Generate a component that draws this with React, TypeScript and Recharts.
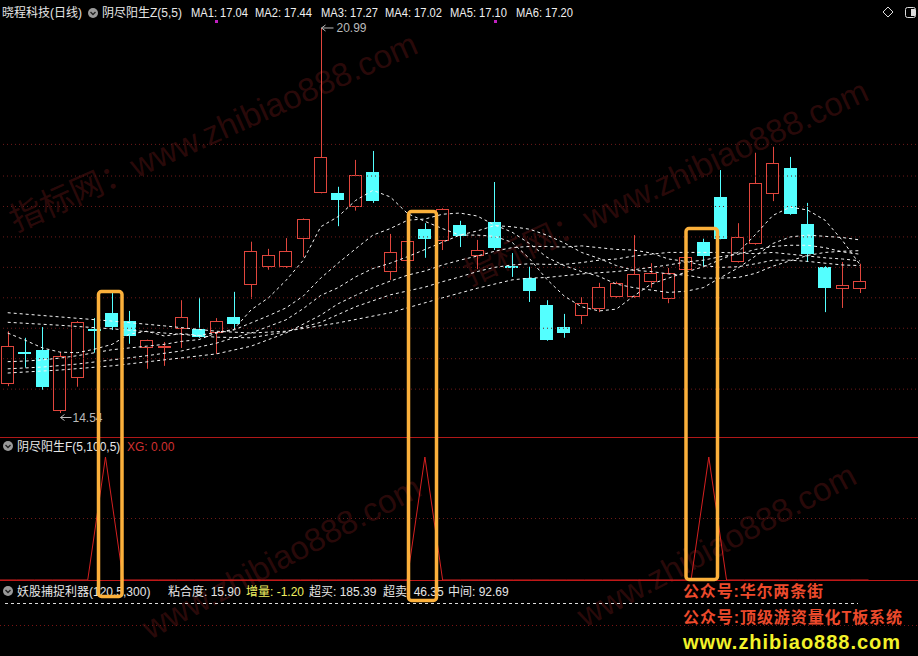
import { Bar, ComposedChart, Line, ReferenceLine, XAxis, YAxis } from "recharts";

// daily candles
const OPEN = [15.03, 15.57, 15.6, 14.57, 15.13, 15.94, 16.22, 16.08, 15.63, 15.65, 15.95, 15.95, 15.88, 16.15, 16.69, 16.99, 16.99, 17.46, 18.23, 18.23, 17.99, 18.58, 16.9, 17.09, 17.62, 17.42, 17.69, 17.17, 17.74, 17.0, 16.8, 16.35, 15.98, 16.17, 16.28, 16.48, 16.48, 16.74, 16.45, 16.94, 17.41, 18.16, 17.07, 17.37, 18.21, 18.65, 17.71, 16.99, 16.62, 16.62];
const HIGH = [15.91, 15.8, 15.98, 15.56, 16.08, 16.13, 16.55, 16.25, 15.77, 15.73, 16.43, 16.48, 16.13, 16.57, 17.41, 17.29, 17.47, 17.8, 20.99, 18.33, 18.78, 18.93, 17.54, 17.43, 17.72, 17.97, 17.76, 17.44, 18.41, 17.22, 16.99, 16.43, 16.2, 16.48, 16.72, 16.74, 17.52, 17.05, 16.97, 17.16, 17.46, 18.61, 17.72, 18.9, 19.0, 18.83, 18.06, 17.0, 17.07, 17.04];
const LOW = [14.99, 15.3, 14.93, 14.54, 14.98, 15.55, 15.93, 15.7, 15.28, 15.33, 15.63, 15.8, 15.53, 15.96, 16.45, 16.94, 16.97, 17.15, 18.22, 17.67, 17.93, 18.06, 16.77, 17.08, 17.14, 17.27, 17.32, 16.95, 17.27, 16.82, 16.4, 15.75, 15.8, 16.03, 16.23, 16.47, 16.47, 16.64, 16.38, 16.93, 17.0, 17.45, 17.06, 17.36, 18.09, 17.86, 17.07, 16.23, 16.3, 16.55];
const CLOSE = [15.66, 15.56, 14.98, 15.5, 16.07, 15.93, 15.98, 15.83, 15.76, 15.65, 16.15, 15.81, 16.08, 16.03, 17.25, 17.19, 17.25, 17.79, 18.83, 18.11, 18.53, 18.09, 17.24, 17.42, 17.46, 17.96, 17.51, 17.27, 17.3, 16.99, 16.58, 15.76, 15.88, 16.38, 16.65, 16.72, 16.87, 16.89, 16.89, 17.15, 17.17, 17.46, 17.49, 18.39, 18.73, 17.87, 17.2, 16.64, 16.69, 16.75];

// moving averages as drawn (dashed white); null = not sampled
const MA1 = [15.88, 15.76, 15.63, 15.56, 15.55, 15.61, 15.69, 15.86, 15.91, 15.83, 15.87, 15.84, 15.89, 15.94, 16.27, 16.47, 16.76, 17.1, 17.66, 17.83, 18.1, 18.27, 18.16, 17.88, 17.75, 17.63, 17.52, 17.52, 17.5, 17.4, 17.13, 16.78, 16.5, 16.32, 16.25, 16.28, 16.5, 16.7, 16.8, 16.9, 16.99, 17.11, 17.23, 17.53, 17.85, 17.99, 17.94, 17.77, 17.43, 17.03];
const MA2 = [15.4, 15.41, 15.43, 15.46, 15.5, 15.55, 15.6, 15.63, 15.66, 15.69, 15.74, 15.77, 15.88, 15.93, 16.05, 16.17, 16.3, 16.5, 16.8, 17.05, 17.29, 17.52, 17.63, 17.77, 17.79, 17.87, 17.89, 17.84, 17.69, 17.57, 17.38, 17.15, 17.01, 16.91, 16.83, 16.7, 16.64, 16.6, 16.56, 16.58, 16.64, 16.81, 16.97, 17.17, 17.38, 17.49, 17.52, 17.5, 17.48, 17.44];
const MA3 = [15.28, null, 15.31, null, 15.36, null, 15.43, null, 15.5, null, 15.58, null, 15.71, 15.8, 15.88, 15.99, 16.1, 16.29, 16.51, 16.64, 16.82, 16.96, 17.05, 17.16, 17.28, 17.4, 17.52, 17.59, 17.68, 17.66, 17.62, 17.52, 17.39, 17.23, 17.13, 17.01, 16.93, 16.91, 16.87, 16.85, 16.8, 16.8, 16.81, 16.88, 17.0, 17.09, 17.18, 17.23, 17.25, 17.26];
const MA4 = [15.21, null, null, 15.26, null, null, 15.33, null, null, 15.43, null, null, 15.53, null, 15.66, null, 15.88, null, 16.18, 16.37, 16.51, 16.64, 16.75, 16.85, 16.92, 17.02, 17.1, 17.17, 17.25, 17.31, 17.33, 17.33, 17.32, 17.34, 17.31, 17.28, 17.27, 17.22, 17.12, 17.08, 17.01, 16.98, 16.99, 17.04, 17.1, 17.1, 17.08, 17.05, 17.02, 17.01];
const MA5 = [16.06, null, null, 16.01, null, null, 15.95, null, null, 15.88, null, null, 15.81, null, 15.8, null, 15.9, null, 16.06, null, 16.32, null, 16.52, null, 16.65, 16.74, 16.82, 16.91, 16.98, 17.02, 17.04, 17.03, 17.03, 17.06, 17.1, 17.12, 17.17, 17.2, 17.23, 17.23, 17.23, 17.23, 17.22, 17.21, 17.23, 17.2, 17.17, 17.14, 17.12, 17.09];
const MA6 = [16.22, null, null, 16.15, null, null, 16.08, null, null, 16.0, null, null, 15.91, null, 15.88, null, 15.91, null, null, 16.05, null, null, 16.22, null, null, 16.47, null, 16.63, null, 16.77, 16.8, 16.81, 16.84, 16.87, 16.89, 16.91, 16.94, 16.98, 17.02, 17.07, 17.1, 17.16, 17.2, 17.28, 17.33, 17.35, 17.35, 17.31, 17.24, 17.2];

// lower panel signal
const XG = [0, 0, 0, 0, 0, 0, 1, 0, 0, 0, 0, 0, 0, 0, 0, 0, 0, 0, 0, 0, 0, 0, 0, 0, 1, 0, 0, 0, 0, 0, 0, 0, 0, 0, 0, 0, 0, 0, 0, 0, 1, 0, 0, 0, 0, 0, 0, 0, 0, 0];

const MARK_BARS = [13, 29];
const MARK_LEVEL = 21.11;
const GRID_LEVELS = [14.94, 15.45, 15.96, 16.47, 16.98, 17.49, 18.0, 18.51, 19.04];

const HEADER_MA = [
  { label: "MA1", value: "17.04" },
  { label: "MA2", value: "17.44" },
  { label: "MA3", value: "17.27" },
  { label: "MA4", value: "17.02" },
  { label: "MA5", value: "17.10" },
  { label: "MA6", value: "17.20" },
];

const ROWS = OPEN.map((open, i) => ({
  bar: i + 1,
  open,
  high: HIGH[i],
  low: LOW[i],
  close: CLOSE[i],
  ma1: MA1[i],
  ma2: MA2[i],
  ma3: MA3[i],
  ma4: MA4[i],
  ma5: MA5[i],
  ma6: MA6[i],
  xg: XG[i],
  mark: MARK_BARS.includes(i + 1) ? MARK_LEVEL : null,
}));

const MAX_HIGH = Math.max(...HIGH);
const MIN_LOW = Math.min(...LOW);

const RED = "#e0463d";
const CYAN = "#54ffff";
const FONT = '"Liberation Sans", "Noto Sans CJK SC", sans-serif';

function Candle(props: any) {
  const { x, y, width, height, payload } = props;
  if (!payload || !Number.isFinite(y)) return <g />;
  const top = Math.min(y, y + height);
  const bot = Math.max(y, y + height);
  const k = (bot - top) / (payload.high - payload.low);
  const py = (v: number) => top + (payload.high - v) * k;
  const cx = Math.round(x + width / 2) + 0.5;
  const lx = Math.round(x);
  const w = Math.round(width);
  const yo = py(payload.open);
  const yc = py(payload.close);
  const bTop = Math.round(Math.min(yo, yc));
  const bBot = Math.round(Math.max(yo, yc));
  const up = payload.close >= payload.open;
  const parts = [];
  if (up) {
    if (bBot - bTop < 2) {
      parts.push(<line key="w" x1={cx} x2={cx} y1={top} y2={bot} stroke={RED} />);
      parts.push(<rect key="b" x={lx} y={bTop - 1} width={w} height={2} fill={RED} />);
    } else {
      parts.push(<line key="w1" x1={cx} x2={cx} y1={top} y2={bTop} stroke={RED} />);
      parts.push(<line key="w2" x1={cx} x2={cx} y1={bBot} y2={bot} stroke={RED} />);
      parts.push(
        <rect key="b" x={lx + 0.5} y={bTop + 0.5} width={w - 1} height={bBot - bTop - 1} fill="#000" stroke={RED} />
      );
    }
  } else {
    parts.push(<line key="w" x1={cx} x2={cx} y1={top} y2={bot} stroke={CYAN} />);
    parts.push(<rect key="b" x={lx} y={bTop} width={w} height={Math.max(2, bBot - bTop)} fill={CYAN} />);
  }
  if (payload.high === MAX_HIGH) {
    const ty = top;
    parts.push(
      <g key="hi" stroke="#bbb" fill="none">
        <line x1={cx} x2={cx + 12} y1={ty} y2={ty} />
        <polyline points={`${cx + 4},${ty - 3} ${cx},${ty} ${cx + 4},${ty + 3}`} />
      </g>
    );
    parts.push(
      <text key="hit" x={cx + 15} y={ty + 4} fill="#bbb" fontSize={12} fontFamily={FONT}>
        {payload.high.toFixed(2)}
      </text>
    );
  }
  if (payload.low === MIN_LOW) {
    const ty = bot + 4.5;
    parts.push(
      <g key="lo" stroke="#bbb" fill="none">
        <line x1={cx} x2={cx + 11} y1={ty} y2={ty} />
        <polyline points={`${cx + 4},${ty - 3} ${cx},${ty} ${cx + 4},${ty + 3}`} />
      </g>
    );
    parts.push(
      <text key="lot" x={cx + 12} y={ty + 4} fill="#bbb" fontSize={12} fontFamily={FONT}>
        {payload.low.toFixed(2)}
      </text>
    );
  }
  return <g>{parts}</g>;
}

function MarkDot(props: any) {
  const { cx, cy, index } = props;
  if (cy == null || !Number.isFinite(cy)) return <g key={index} />;
  return <rect key={index} x={Math.round(cx) - 1} y={Math.round(cy) - 1} width={3} height={3} fill="#c020c0" />;
}

const PAD = { left: 0, right: 50.5 };

function Icon({ cx, cy }: { cx: number; cy: number }) {
  return (
    <g>
      <circle cx={cx} cy={cy} r={5} fill="#9a9a9a" />
      <polyline points={`${cx - 2.5},${cy - 1} ${cx},${cy + 1.5} ${cx + 2.5},${cy - 1}`} fill="none" stroke="#222" strokeWidth={1.4} />
    </g>
  );
}

// faint site watermark behind the chart
function Watermarks() {
  const items = [
    { x: 16, y: 232, a: -24, t: "指标网：www.zhibiao888.com" },
    { x: 470, y: 286, a: -25, t: "指标网：www.zhibiao888.com" },
    { x: 150, y: 640, a: -28, t: "www.zhibiao888.com" },
    { x: 585, y: 628, a: -28, t: "www.zhibiao888.com" },
  ];
  return (
    <svg width={918} height={656} style={{ position: "absolute", left: 0, top: 0 }}>
      {items.map((p, i) => (
        <text
          key={i}
          x={p.x}
          y={p.y}
          transform={`rotate(${p.a} ${p.x} ${p.y})`}
          fill="rgba(120,28,28,0.36)"
          fontSize={33}
          fontFamily={FONT}
        >
          {p.t}
        </text>
      ))}
    </svg>
  );
}

function Overlay() {
  const txt = { fontFamily: FONT, fontSize: 12 };
  return (
    <svg width={918} height={656} style={{ position: "absolute", left: 0, top: 0 }}>
      {/* header */}
      <text x={2} y={17} fill="#e6e6e6" {...txt}>晓程科技(日线)</text>
      <Icon cx={93} cy={13} />
      <text x={102} y={17} fill="#e6e6e6" {...txt}>阴尽阳生Z(5,5)</text>
      {HEADER_MA.map((m, i) => (
        <text
          key={m.label}
          x={[191, 255, 321, 385, 450, 516][i]}
          y={17}
          fill="#f0f0f0"
          textLength={57}
          lengthAdjust="spacingAndGlyphs"
          {...txt}
        >
          {`${m.label}: ${m.value}`}
        </text>
      ))}
      <path d="M888 7 L893 12 L888 17 L883 12 Z" fill="none" stroke="#ddd" />
      <rect x={905.5} y={7.5} width={10} height={10} rx={2} fill="none" stroke="#ddd" />
      <rect x={911} y={9} width={4} height={7} fill="#ddd" />

      {/* panel borders */}
      <line x1={0} x2={918} y1={437.5} y2={437.5} stroke="#b01818" />
      <line x1={0} x2={918} y1={580.5} y2={580.5} stroke="#c01818" />

      {/* lower panel title */}
      <Icon cx={8} cy={446} />
      <text x={17} y={451} fill="#e6e6e6" {...txt}>阴尽阳生F(5,100,5)</text>
      <text x={127} y={451} fill="#d03030" {...txt}>XG: 0.00</text>

      {/* bottom indicator row */}
      <Icon cx={8} cy={591} />
      <text x={17} y={596} fill="#e6e6e6" {...txt}>妖股捕捉利器(120,5,300)</text>
      <text x={168} y={596} fill="#e6e6e6" {...txt}>粘合度: 15.90</text>
      <text x={246} y={596} fill="#f0f060" {...txt}>增量: -1.20</text>
      <text x={309} y={596} fill="#e6e6e6" {...txt}>超买: 185.39</text>
      <text x={383} y={596} fill="#e6e6e6" {...txt}>超卖: 46.35</text>
      <text x={448} y={596} fill="#e6e6e6" {...txt}>中间: 92.69</text>
      <line x1={5} x2={858} y1={603.5} y2={603.5} stroke="#ddd" strokeDasharray="3 3" />
      <line x1={0} x2={918} y1={625.5} y2={625.5} stroke="#7a1414" strokeDasharray="1 3" />

      {/* promo text */}
      <text x={683} y={597} fill="#ec4a2c" fontFamily={FONT} fontSize={16} fontWeight="bold" textLength={140}>
        公众号:华尔两条街
      </text>
      <text x={683} y={623} fill="#ec4a2c" fontFamily={FONT} fontSize={16} fontWeight="bold" textLength={219}>
        公众号:顶级游资量化T板系统
      </text>
      <text x={683} y={649} fill="#f2f22a" fontFamily={FONT} fontSize={20} fontWeight="bold" textLength={217}>
        www.zhibiao888.com
      </text>

      {/* hand-drawn highlight boxes */}
      <g fill="none" stroke="#fbb03b" strokeWidth={3.5}>
        <rect x={98.5} y={291.5} width={23.5} height={305} rx={3} />
        <rect x={408.5} y={211.5} width={28} height={389} rx={3} />
        <rect x={686} y={228.5} width={31.5} height={351} rx={3} />
      </g>
    </svg>
  );
}

export default function App() {
  return (
    <div style={{ position: "relative", width: 918, height: 656, background: "#000", overflow: "hidden" }}>
      <style>{"body{margin:0;background:#000}"}</style>
      <Watermarks />
      <div style={{ position: "absolute", left: -1, top: 0 }}>
        <ComposedChart width={920} height={437} data={ROWS} margin={{ top: 0, right: 0, bottom: 0, left: 0 }}>
          <XAxis dataKey="bar" type="category" hide padding={PAD} />
          <YAxis type="number" hide domain={[14.138, 21.459]} allowDataOverflow />
          {GRID_LEVELS.map((lv) => (
            <ReferenceLine key={lv} y={lv} stroke="#6e1a1a" strokeDasharray="1 3" />
          ))}
          <Bar dataKey={(d: any) => [d.low, d.high]} barSize={13} shape={(p: any) => <Candle {...p} />} isAnimationActive={false} />
          {["ma1", "ma2", "ma3", "ma4", "ma5", "ma6"].map((k) => (
            <Line
              key={k}
              dataKey={k}
              type="linear"
              stroke="#f4f4f4"
              strokeWidth={1}
              strokeDasharray="3 3"
              dot={false}
              connectNulls
              isAnimationActive={false}
            />
          ))}
          <Line dataKey="mark" stroke="none" dot={(p: any) => <MarkDot {...p} />} isAnimationActive={false} />
        </ComposedChart>
      </div>
      <div style={{ position: "absolute", left: -1, top: 437 }}>
        <ComposedChart width={920} height={143} data={ROWS} margin={{ top: 20, right: 0, bottom: 0, left: 0 }}>
          <XAxis dataKey="bar" type="category" hide padding={PAD} />
          <YAxis type="number" hide domain={[0, 1]} allowDataOverflow />
          <ReferenceLine y={0.5} stroke="#6e1a1a" strokeDasharray="1 3" />
          <Line dataKey="xg" type="linear" stroke="#d42020" strokeWidth={1} dot={false} isAnimationActive={false} />
        </ComposedChart>
      </div>
      <Overlay />
    </div>
  );
}
